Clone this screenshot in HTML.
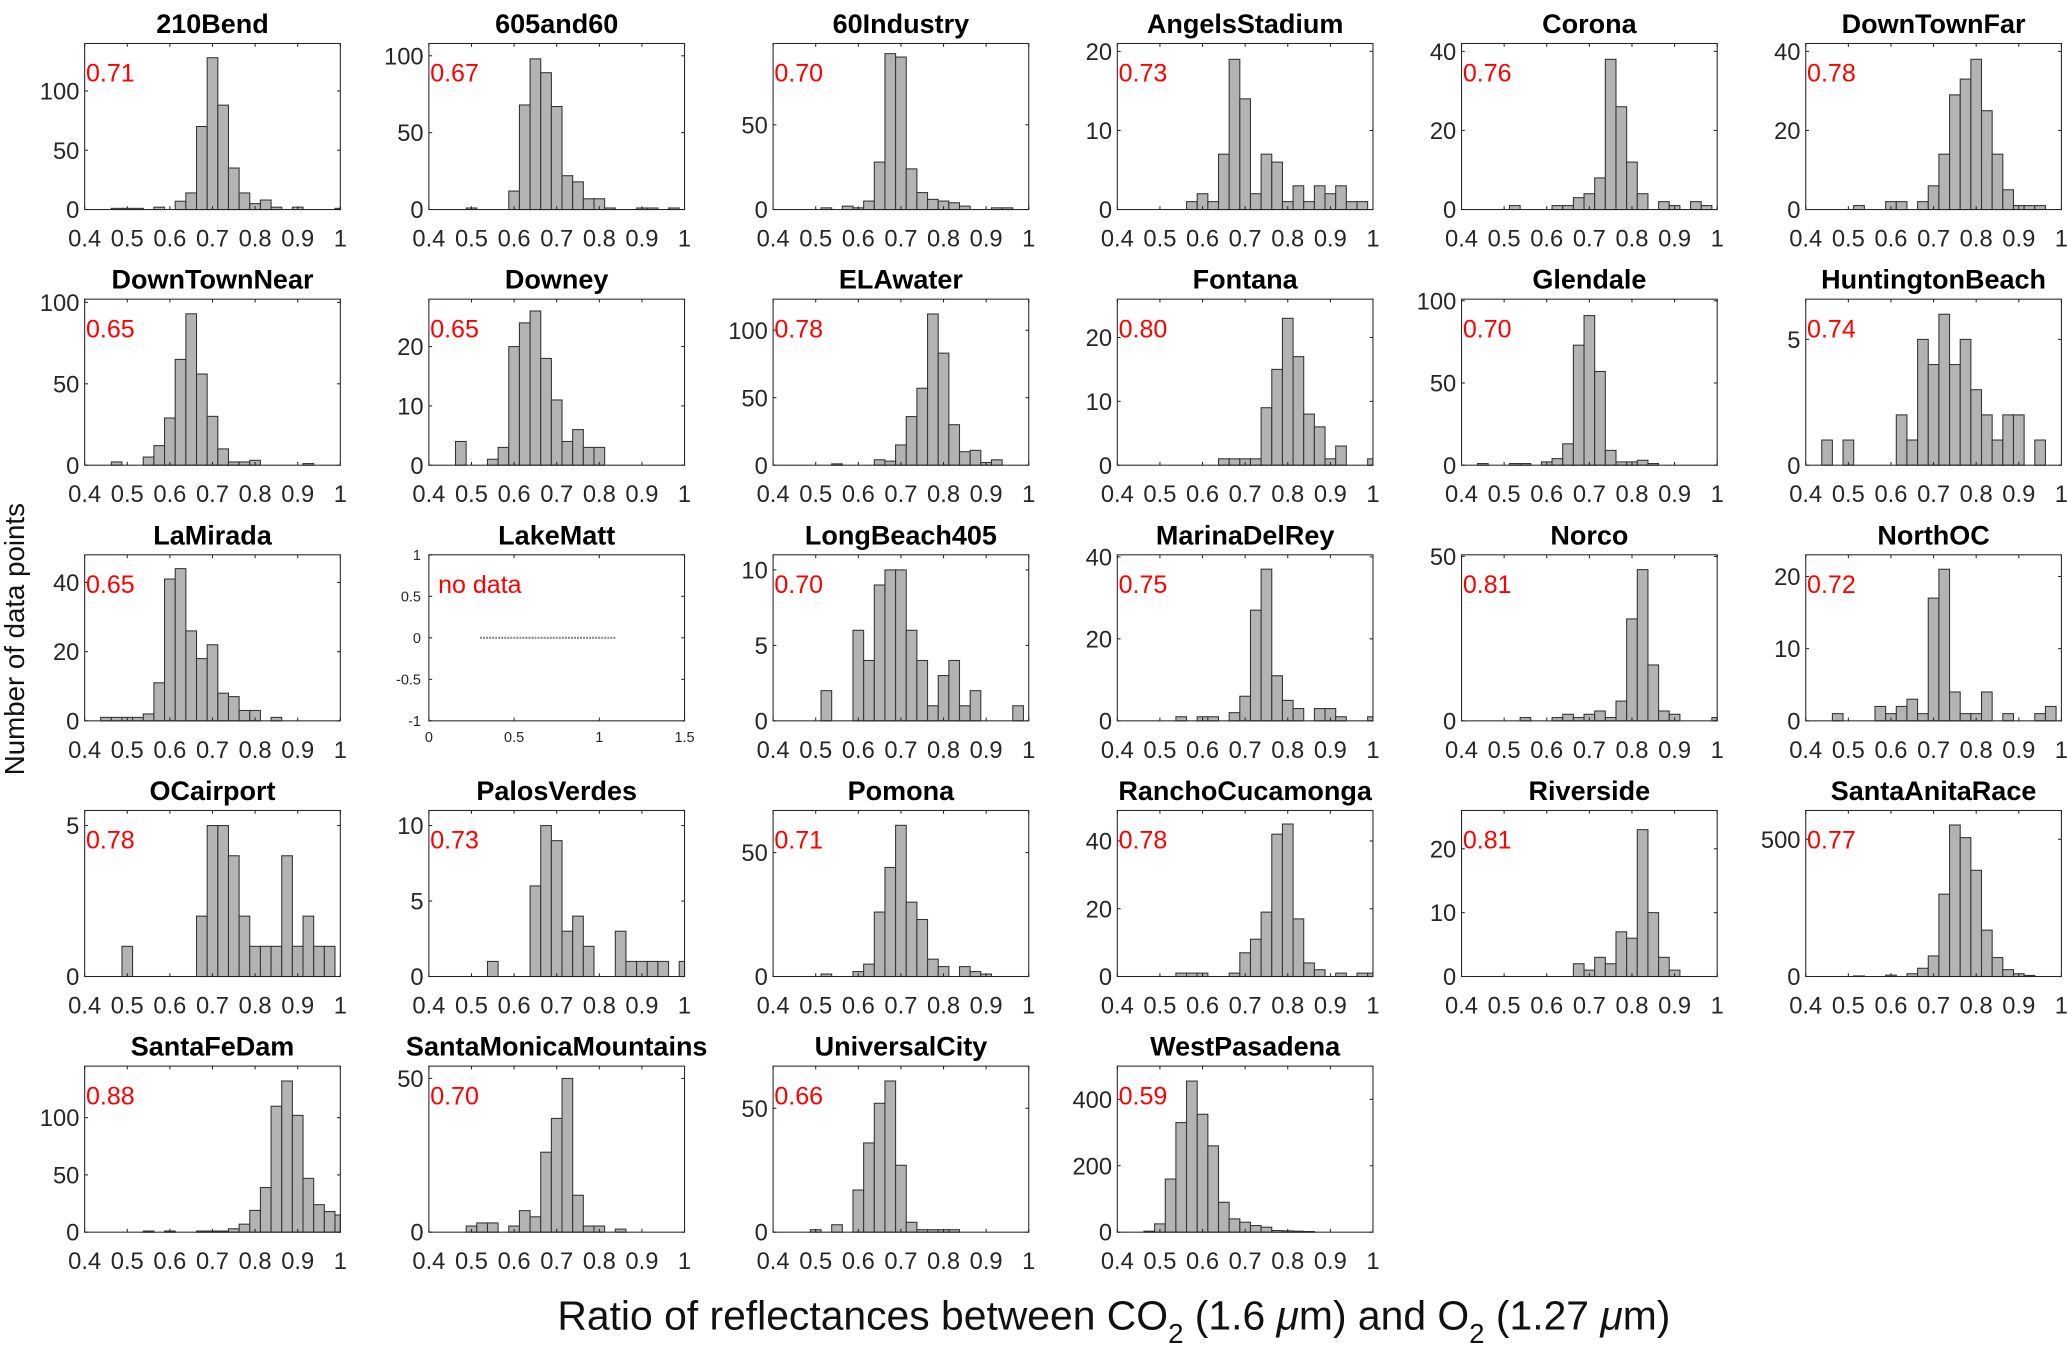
<!DOCTYPE html>
<html><head><meta charset="utf-8"><style>
html,body{margin:0;padding:0;background:#fff;}
svg{display:block;}
text{font-family:"Liberation Sans",Arial,sans-serif;}
</style></head><body>
<svg id="fig" width="2067" height="1360" viewBox="0 0 1568 1032" xmlns="http://www.w3.org/2000/svg">
<text transform="translate(18,485) rotate(-90)" text-anchor="middle" font-size="21" fill="#111">Number of data points</text>
<text x="845" y="1009" text-anchor="middle" font-size="31" fill="#111">Ratio of reflectances between CO<tspan font-size="21" dy="10">2</tspan><tspan dy="-10"> (1.6 </tspan><tspan font-style="italic">μ</tspan>m) and O<tspan font-size="21" dy="10">2</tspan><tspan dy="-10"> (1.27 </tspan><tspan font-style="italic">μ</tspan>m)</text>
</svg>
<script>
const stations = ["210Bend","605and60","60Industry","AngelsStadium","Corona","DownTownFar","DownTownNear","Downey","ELAwater","Fontana","Glendale","HuntingtonBeach","LaMirada","LakeMatt","LongBeach405","MarinaDelRey","Norco","NorthOC","OCairport","PalosVerdes","Pomona","RanchoCucamonga","Riverside","SantaAnitaRace","SantaFeDam","SantaMonicaMountains","UniversalCity","WestPasadena"];
const ratioLabels = ["0.71","0.67","0.70","0.73","0.76","0.78","0.65","0.65","0.78","0.80","0.70","0.74","0.65","no data","0.70","0.75","0.81","0.72","0.78","0.73","0.71","0.78","0.81","0.77","0.88","0.70","0.66","0.59"];
const yMax = [140,108,98,21,42,42,102,28,123,26,101,6.6,48,1,11,40.5,50.5,23,5.5,11,67,49,26,605,145,54,67,500];
const yTicks = [[0,50,100],[0,50,100],[0,50],[0,10,20],[0,20,40],[0,20,40],[0,50,100],[0,10,20],[0,50,100],[0,10,20],[0,50,100],[0,5],[0,20,40],[],[0,5,10],[0,20,40],[0,50],[0,10,20],[0,5],[0,5,10],[0,50],[0,20,40],[0,10,20],[0,500],[0,50,100],[0,50],[0,50],[0,200,400]];
const binCenters = [0.4,0.425,0.45,0.475,0.5,0.525,0.55,0.575,0.6,0.625,0.65,0.675,0.7,0.725,0.75,0.775,0.8,0.825,0.85,0.875,0.9,0.925,0.95,0.975,1.0];
const xTickValues = [0.4,0.5,0.6,0.7,0.8,0.9,1];
const xTickLabels = ["0.4","0.5","0.6","0.7","0.8","0.9","1"];
const counts = [
[0,0,0,1,1,1,0,2,0,7,14,70,128,88,35,14,5,8,2,0,2,0,0,0,1],
[0,0,0,0,1,0,0,0,12,68,98,89,67,22,18,7,7,1,0,0,1,1,0,1,0],
[0,0,0,0,0,1,0,2,1,5,28,92,90,24,10,6,5,4,2,0,0,1,1,0,0],
[0,0,0,0,0,0,0,1,2,1,7,19,14,2,7,6,1,3,1,3,2,3,1,1,0],
[0,0,0,0,0,1,0,0,0,1,1,3,4,8,38,26,12,4,0,2,1,0,2,1,0],
[0,0,0,0,0,1,0,0,2,2,0,2,6,14,29,33,38,25,14,5,1,1,1,0,0],
[0,0,0,2,0,0,5,12,29,65,93,56,30,10,2,2,3,0,0,0,0,1,0,0,0],
[0,0,0,4,0,0,1,3,20,24,26,18,11,4,6,3,3,0,0,0,0,0,0,0,0],
[0,0,0,0,0,0,1,0,0,0,4,3,15,36,57,112,83,30,10,11,2,4,0,0,0],
[0,0,0,0,0,0,0,0,0,0,1,1,1,1,9,15,23,17,8,6,1,3,0,0,1],
[0,0,1,0,0,1,1,0,2,4,13,73,91,57,9,2,2,3,1,0,0,0,0,0,0],
[0,0,1,0,1,0,0,0,0,2,1,5,4,6,4,5,3,2,1,2,2,0,1,0,0],
[0,0,1,1,1,1,2,11,41,44,26,18,22,8,7,3,3,0,1,0,0,0,0,0,0],
[],
[0,0,0,0,0,2,0,0,6,4,9,10,10,6,4,1,3,4,1,2,0,0,0,1,0],
[0,0,0,0,0,0,1,0,1,1,0,2,6,27,37,11,5,3,0,3,3,1,0,0,1],
[0,0,0,0,0,0,1,0,0,1,2,1,2,3,1,6,31,46,17,3,2,0,0,0,1],
[0,0,0,1,0,0,0,2,1,2,3,1,17,21,4,1,1,4,0,1,0,0,1,2,0],
[0,0,0,0,1,0,0,0,0,0,0,2,5,5,4,2,1,1,1,4,1,2,1,1,0],
[0,0,0,0,0,0,1,0,0,0,6,10,9,3,4,2,0,0,3,1,1,1,1,0,1],
[0,0,0,0,0,1,0,0,2,5,26,44,61,30,23,7,4,0,4,2,1,0,0,0,0],
[0,0,0,0,0,0,1,1,1,0,0,1,7,11,19,42,45,17,4,2,0,1,0,1,1],
[0,0,0,0,0,0,0,0,0,0,0,2,1,3,2,7,6,23,10,3,1,0,0,0,0],
[0,0,0,0,0,2,0,0,5,0,10,30,75,300,552,506,387,169,69,25,10,4,0,0,0],
[0,0,0,0,0,0,1,0,1,0,0,1,1,1,3,7,19,39,110,132,102,47,24,18,15],
[0,0,0,0,2,3,3,0,2,7,5,26,37,50,12,2,2,0,1,0,0,0,0,0,0],
[0,0,0,0,1,0,3,0,17,36,52,61,27,4,1,1,1,1,0,0,0,0,0,0,0],
[0,0,0,3,25,160,330,455,355,260,90,40,30,20,15,5,4,3,2,0,0,0,0,0,0]
];
const emptyXTicks = [0,0.5,1,1.5];
const emptyYTicks = [-1,-0.5,0,0.5,1];

const NS = "http://www.w3.org/2000/svg";
const svg = document.getElementById("fig");
const colLeft = [64,325.2,586.4,847.6,1108.8,1370];
const rowTop = [33,227,421,615,809];
const W = 194, H = 126, BW = 0.025;
function mk(tag, attrs, parent){
  const e = document.createElementNS(NS, tag);
  for (const k in attrs) e.setAttribute(k, attrs[k]);
  (parent||svg).appendChild(e);
  return e;
}
stations.forEach((name, i) => {
  const L = colLeft[i % 6], T = rowTop[Math.floor(i / 6)], B = T + H, R = L + W;
  const g = mk("g", {});
  
  
  const title = mk("text", {x: L + W / 2, y: T - 8, "text-anchor": "middle", "font-size": "20.5", "font-weight": "bold", fill: "#000"}, g);
  title.textContent = name;
  
  
  const empty = counts[i].length === 0;
  const xmin = empty ? 0 : 0.4, xmax = empty ? 1.5 : 1.0;
  const ymin = empty ? -1 : 0, ymax = yMax[i];
  const sx = v => L + (v - xmin) / (xmax - xmin) * W;
  const sy = v => B - (v - ymin) / (ymax - ymin) * H;
  if (!empty) {
    counts[i].forEach((c, k) => {
      if (c <= 0) return;
      const x0 = Math.max(binCenters[k] - BW / 2, xmin), x1 = Math.min(binCenters[k] + BW / 2, xmax);
      const r = mk("rect", {x: sx(x0), y: sy(c), width: sx(x1) - sx(x0), height: sy(0) - sy(c), fill: "#b3b3b3", stroke: "#333", "stroke-width": "0.8"}, g);
      
      
    });
  } else {
    const ln = mk("line", {x1: sx(0.3), x2: sx(1.1), y1: sy(0), y2: sy(0), stroke: "#888", "stroke-width": "1.6", "stroke-dasharray": "1.5 0.8"}, g);
    
    
  }
  const box = mk("rect", {x: L, y: T, width: W, height: H, fill: "none", stroke: "#262626", "stroke-width": "0.8"}, g);
  
  
  const xt = empty ? emptyXTicks : xTickValues;
  const fs = empty ? 11 : 18;
  xt.forEach((v, k) => {
    mk("line", {x1: sx(v), x2: sx(v), y1: B, y2: B - 2.5, stroke: "#262626", "stroke-width": "0.8"}, g);
    mk("line", {x1: sx(v), x2: sx(v), y1: T, y2: T + 2.5, stroke: "#262626", "stroke-width": "0.8"}, g);
    const t = mk("text", {x: sx(v), y: B + (empty ? 16 : 28), "text-anchor": "middle", "font-size": fs, fill: "#262626"}, g);
    t.textContent = empty ? String(v) : xTickLabels[k];
    
    
  });
  const yt = empty ? emptyYTicks : yTicks[i];
  yt.forEach(v => {
    mk("line", {x1: L, x2: L + 2.5, y1: sy(v), y2: sy(v), stroke: "#262626", "stroke-width": "0.8"}, g);
    mk("line", {x1: R, x2: R - 2.5, y1: sy(v), y2: sy(v), stroke: "#262626", "stroke-width": "0.8"}, g);
    const t = mk("text", {x: L - (empty ? 6 : 4), y: sy(v) + (empty ? 4 : 6.5), "text-anchor": "end", "font-size": fs, fill: "#262626"}, g);
    t.textContent = String(v);
    
    
  });
  const lab = mk("text", {x: L + (empty ? 7 : 1), y: T + 29, "font-size": "19", fill: "#ff0000"}, g);
  lab.textContent = ratioLabels[i];
  
  
});
</script>
</body></html>
